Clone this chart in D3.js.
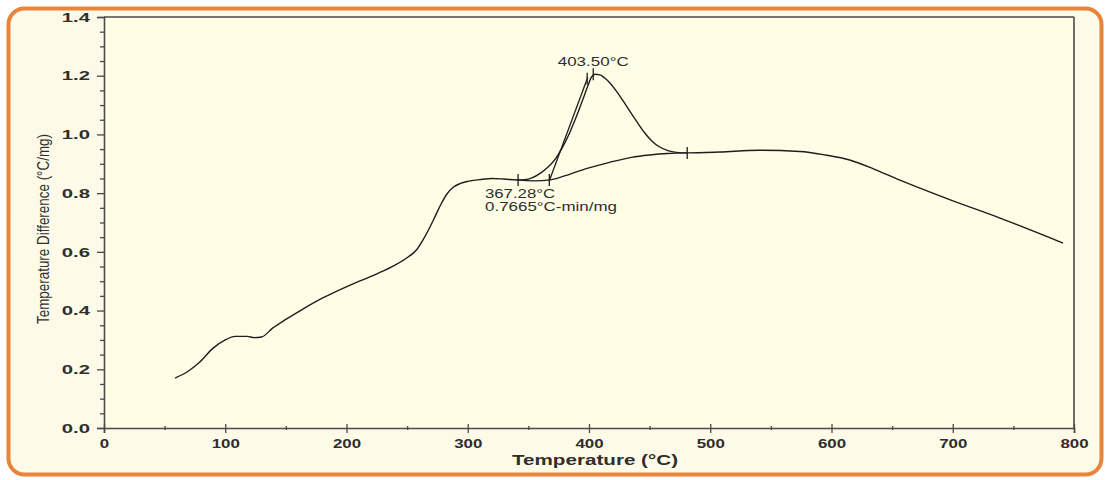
<!DOCTYPE html>
<html>
<head>
<meta charset="utf-8">
<script src="https://cdn.jsdelivr.net/npm/d3@7"></script>
<style>
  html, body { margin: 0; padding: 0; background: #ffffff; }
  svg { display: block; font-family: "Liberation Sans", Arial, sans-serif; }
</style>
</head>
<body>
<svg id="chart" width="1105" height="480"></svg>
<script>
// DSC trace: temperature difference versus sample temperature
const mainTemp = [58.6, 70, 79, 90, 100, 108, 118, 124, 130, 139, 150, 162, 180, 203, 225, 240, 250, 258, 263, 268, 273, 278, 283, 288, 294, 300, 310, 320, 330, 341, 347, 353, 360, 366, 372, 378, 384, 390, 395, 399, 402, 405, 409, 413, 418, 423, 428, 434, 440, 446, 452, 458, 465, 472, 481, 508, 540, 574, 595, 615, 635, 656, 698, 739, 791];
const mainDiff = [0.170, 0.195, 0.225, 0.272, 0.300, 0.312, 0.312, 0.308, 0.310, 0.340, 0.370, 0.400, 0.442, 0.487, 0.525, 0.555, 0.580, 0.608, 0.640, 0.678, 0.720, 0.763, 0.798, 0.820, 0.833, 0.840, 0.846, 0.850, 0.848, 0.845, 0.846, 0.852, 0.868, 0.888, 0.915, 0.955, 1.005, 1.065, 1.120, 1.165, 1.195, 1.205, 1.203, 1.192, 1.172, 1.145, 1.115, 1.077, 1.040, 1.005, 0.977, 0.958, 0.945, 0.939, 0.937, 0.940, 0.946, 0.942, 0.930, 0.913, 0.882, 0.845, 0.777, 0.715, 0.630];

// Interpolated baseline under the exotherm
const baseTemp = [341, 355, 368, 385, 400, 417, 435, 450, 465, 481];
const baseDiff = [0.845, 0.842, 0.845, 0.866, 0.886, 0.905, 0.922, 0.930, 0.935, 0.937];

// Onset tangent (extrapolated leading edge)
const tangentTemp = [367.28, 399];
const tangentDiff = [0.842, 1.195];

// Analysis markers: integration limits, onset, peak
const markerTemp = [341.5, 367.28, 398.5, 403.5, 481];
const markerDiff = [0.845, 0.845, 1.19, 1.205, 0.937];

const xTicks = [0, 100, 200, 300, 400, 500, 600, 700, 800];
const yTicks = [0.0, 0.2, 0.4, 0.6, 0.8, 1.0, 1.2, 1.4];

const peakLabel = "403.50°C";
const onsetLabel = ["367.28°C", "0.7665°C-min/mg"];
const xTitle = "Temperature (°C)";
const yTitle = "Temperature Difference (°C/mg)";

const svg = d3.select("#chart");
const W = 1105, H = 480;
const plot = { left: 104, right: 1074, top: 17, bottom: 428 };

// framed panel
svg.append("rect").attr("x", 0).attr("y", 0).attr("width", W).attr("height", H).attr("fill", "#ffffff");
svg.append("rect")
  .attr("x", 8.5).attr("y", 8.5).attr("width", 1093).attr("height", 466)
  .attr("rx", 16).attr("ry", 16)
  .attr("fill", "#fdfbe7").attr("stroke", "#e8843c").attr("stroke-width", 4);

svg.append("rect")
  .attr("x", plot.left).attr("y", plot.top)
  .attr("width", plot.right - plot.left).attr("height", plot.bottom - plot.top)
  .attr("fill", "#fffde6");

const x = d3.scaleLinear().domain([0, 800]).range([plot.left, plot.right]);
const y = d3.scaleLinear().domain([0, 1.4]).range([plot.bottom, plot.top]);

const axisColor = "#4a4a4a";
const labelColor = "#2e2e2e";

// minor ticks
const xMinor = d3.range(50, 800, 100);
const yMinor = d3.range(0, 1.4001, 0.05).filter(v => Math.abs(Math.round(v * 5) - v * 5) > 1e-6);

const xAxis = svg.append("g").attr("transform", `translate(0,${plot.bottom})`)
  .call(d3.axisBottom(x).tickValues(xTicks).tickFormat(d3.format("d")).tickSize(5).tickPadding(3));
xAxis.selectAll(".tick line").attr("y1", -4);
const yAxis = svg.append("g").attr("transform", `translate(${plot.left},0)`)
  .call(d3.axisLeft(y).tickValues(yTicks).tickFormat(d3.format(".1f")).tickSize(7).tickPadding(7));

svg.append("g").attr("transform", `translate(0,${plot.bottom})`)
  .call(d3.axisBottom(x).tickValues(xMinor).tickFormat("").tickSize(2))
  .call(g => g.select(".domain").remove())
  .call(g => g.selectAll(".tick line").attr("y1", -2));
svg.append("g").attr("transform", `translate(${plot.left},0)`)
  .call(d3.axisLeft(y).tickValues(yMinor).tickFormat("").tickSize(4))
  .call(g => g.select(".domain").remove());

svg.selectAll(".tick line").attr("stroke", axisColor).attr("stroke-width", 1.3);
svg.selectAll(".domain").attr("stroke", axisColor).attr("stroke-width", 1.6);
[xAxis, yAxis].forEach(g => g.selectAll("text")
  .attr("fill", labelColor).attr("font-size", 13).attr("font-weight", "bold")
  .attr("font-family", "Liberation Sans, Arial, sans-serif")
  .attr("lengthAdjust", "spacingAndGlyphs")
  .attr("textLength", function() { return this.textContent.length * 9.4; }));
xAxis.selectAll("text").attr("dy", "0.9em");

// top and right frame lines
svg.append("line").attr("x1", plot.left).attr("x2", plot.right).attr("y1", plot.top).attr("y2", plot.top)
  .attr("stroke", axisColor).attr("stroke-width", 1.6);
svg.append("line").attr("x1", plot.right).attr("x2", plot.right).attr("y1", plot.top).attr("y2", plot.bottom)
  .attr("stroke", axisColor).attr("stroke-width", 1.6);

// axis titles
svg.append("text")
  .attr("x", (plot.left + plot.right) / 2 + 6).attr("y", 465)
  .attr("text-anchor", "middle").attr("font-size", 15.5).attr("font-weight", "bold")
  .attr("textLength", 166).attr("lengthAdjust", "spacingAndGlyphs")
  .attr("fill", labelColor).text(xTitle);
svg.append("text")
  .attr("transform", `translate(49,229) rotate(-90)`)
  .attr("text-anchor", "middle").attr("font-size", 16.5).attr("fill", labelColor)
  .attr("textLength", 190).attr("lengthAdjust", "spacingAndGlyphs")
  .text(yTitle);

// curves
const line = d3.line().x(d => x(d[0])).y(d => y(d[1])).curve(d3.curveMonotoneX);
const traceColor = "#1e1e1e";

svg.append("path")
  .datum(d3.zip(mainTemp, mainDiff))
  .attr("d", line).attr("fill", "none").attr("stroke", traceColor).attr("stroke-width", 1.4);

svg.append("path")
  .datum(d3.zip(baseTemp, baseDiff))
  .attr("d", line).attr("fill", "none").attr("stroke", traceColor).attr("stroke-width", 1.3);

svg.append("path")
  .datum(d3.zip(tangentTemp, tangentDiff))
  .attr("d", d3.line().x(d => x(d[0])).y(d => y(d[1])))
  .attr("fill", "none").attr("stroke", traceColor).attr("stroke-width", 1.3);

// analysis markers
svg.append("g").selectAll("line")
  .data(d3.zip(markerTemp, markerDiff))
  .join("line")
  .attr("x1", d => x(d[0])).attr("x2", d => x(d[0]))
  .attr("y1", d => y(d[1]) - 6).attr("y2", d => y(d[1]) + 6)
  .attr("stroke", traceColor).attr("stroke-width", 1.3);

// annotations
svg.append("text")
  .attr("x", x(403.5)).attr("y", 66)
  .attr("text-anchor", "middle").attr("font-size", 13).attr("fill", labelColor)
  .attr("textLength", 71).attr("lengthAdjust", "spacingAndGlyphs")
  .text(peakLabel);

const onset = svg.append("g").attr("font-size", 13).attr("fill", labelColor);
onset.append("text").attr("x", 485).attr("y", 198)
  .attr("textLength", 70).attr("lengthAdjust", "spacingAndGlyphs").text(onsetLabel[0]);
onset.append("text").attr("x", 485).attr("y", 211)
  .attr("textLength", 132).attr("lengthAdjust", "spacingAndGlyphs").text(onsetLabel[1]);
</script>
</body>
</html>
